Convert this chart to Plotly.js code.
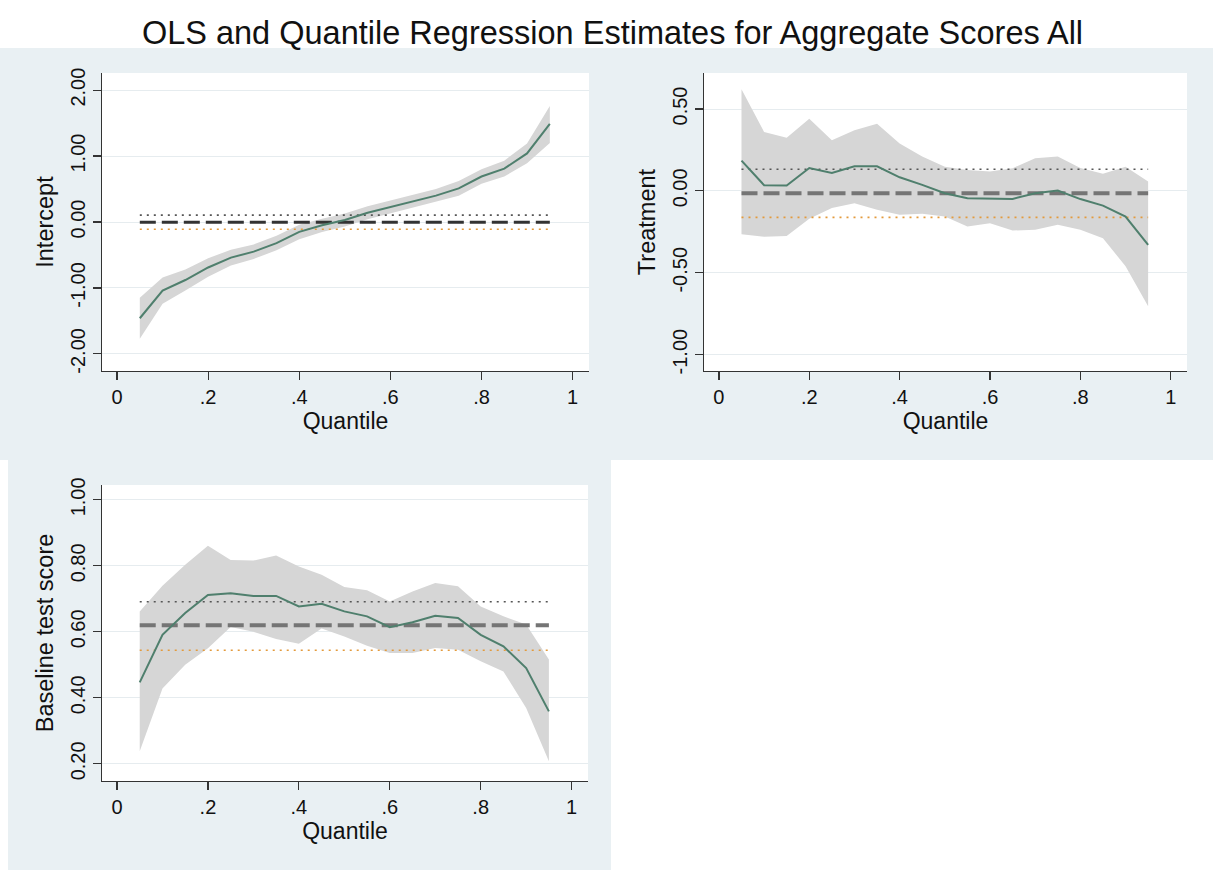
<!DOCTYPE html>
<html>
<head>
<meta charset="utf-8">
<script src="https://cdn.plot.ly/plotly-3.0.1.min.js"></script>
<style>html,body{margin:0;padding:0;background:#fff;}#chart{width:1225px;height:873px;}</style>
</head>
<body>
<div id="chart"></div>
<script>
// ---- data ----
const quantiles = [0.05,0.10,0.15,0.20,0.25,0.30,0.35,0.40,0.45,0.50,0.55,0.60,0.65,0.70,0.75,0.80,0.85,0.90,0.95];

const interceptCoef = [-1.46,-1.04,-0.88,-0.69,-0.54,-0.45,-0.32,-0.15,-0.05,0.03,0.14,0.23,0.32,0.40,0.51,0.69,0.81,1.04,1.49];
const interceptHi   = [-1.15,-0.84,-0.72,-0.55,-0.42,-0.34,-0.21,-0.04,0.05,0.13,0.24,0.33,0.42,0.50,0.62,0.80,0.93,1.19,1.76];
const interceptLo   = [-1.77,-1.24,-1.04,-0.83,-0.66,-0.56,-0.43,-0.26,-0.15,-0.07,0.04,0.13,0.22,0.30,0.40,0.58,0.69,0.89,1.20];
const interceptOLS = [-0.003, -0.11, 0.105]; // estimate, lower CI, upper CI

const treatCoef = [0.185,0.035,0.033,0.14,0.11,0.15,0.15,0.083,0.037,-0.014,-0.045,-0.045,-0.049,-0.014,0.002,-0.05,-0.09,-0.157,-0.33];
const treatHi   = [0.62,0.36,0.325,0.44,0.31,0.37,0.41,0.29,0.21,0.148,0.128,0.118,0.138,0.20,0.21,0.14,0.104,0.148,0.057];
const treatLo   = [-0.265,-0.28,-0.275,-0.17,-0.105,-0.075,-0.115,-0.146,-0.14,-0.156,-0.217,-0.197,-0.242,-0.238,-0.207,-0.238,-0.289,-0.46,-0.705];
const treatOLS = [-0.015, -0.162, 0.132];

const baseCoef = [0.447,0.591,0.657,0.712,0.717,0.709,0.709,0.677,0.685,0.662,0.647,0.614,0.629,0.649,0.642,0.591,0.556,0.490,0.359];
const baseHi   = [0.662,0.740,0.803,0.861,0.818,0.816,0.831,0.798,0.773,0.736,0.726,0.692,0.722,0.748,0.738,0.677,0.647,0.622,0.516];
const baseLo   = [0.238,0.428,0.500,0.550,0.615,0.600,0.578,0.564,0.610,0.586,0.558,0.536,0.536,0.551,0.546,0.511,0.480,0.369,0.208];
const baseOLS = [0.62, 0.544, 0.691];

const xTickVals = [0,0.2,0.4,0.6,0.8,1];
const xTickText = ['0','.2','.4','.6','.8','1'];
const yTickVals1 = [-2,-1,0,1,2];
const yTickText1 = ['-2.00','-1.00','0.00','1.00','2.00'];
const yTickVals2 = [-1,-0.5,0,0.5];
const yTickText2 = ['-1.00','-0.50','0.00','0.50'];
const yTickVals3 = [0.2,0.4,0.6,0.8,1.0];
const yTickText3 = ['0.20','0.40','0.60','0.80','1.00'];
const yTitles = ['Intercept','Treatment','Baseline test score'];
const xTitle = 'Quantile';
const chartTitle = 'OLS and Quantile Regression Estimates for Aggregate Scores All';

// ---- styles ----
const W = 1225, H = 873;
const FONT = 'Liberation Sans, Arial, Helvetica, sans-serif';
const BG = '#e9f0f3';
const bandColor = '#d6d6d6';
const qrColor = '#4f7f6d';
const upperDotColor = '#555555';
const lowerDotColor = '#e39a3c';

function panelTraces(xa, ya, coef, lo, hi, ols, olsColor, olsWidth) {
  const first = quantiles[0], last = quantiles[quantiles.length-1];
  return [
    {x: quantiles, y: lo, xaxis: xa, yaxis: ya, mode: 'lines', line: {width: 0, color: bandColor}, hoverinfo: 'skip', showlegend: false},
    {x: quantiles, y: hi, xaxis: xa, yaxis: ya, mode: 'lines', line: {width: 0, color: bandColor}, fill: 'tonexty', fillcolor: bandColor, hoverinfo: 'skip', showlegend: false},
    {x: [first, last], y: [ols[2], ols[2]], xaxis: xa, yaxis: ya, mode: 'lines', line: {color: upperDotColor, width: 1.6, dash: '2px,5px'}, showlegend: false},
    {x: [first, last], y: [ols[1], ols[1]], xaxis: xa, yaxis: ya, mode: 'lines', line: {color: lowerDotColor, width: 1.6, dash: '2px,5px'}, showlegend: false},
    {x: [first, last], y: [ols[0], ols[0]], xaxis: xa, yaxis: ya, mode: 'lines', line: {color: olsColor, width: olsWidth, dash: '16px,6px'}, showlegend: false},
    {x: quantiles, y: coef, xaxis: xa, yaxis: ya, mode: 'lines', line: {color: qrColor, width: 2}, showlegend: false}
  ];
}

const data = [].concat(
  panelTraces('x','y', interceptCoef, interceptLo, interceptHi, interceptOLS, '#333333', 3),
  panelTraces('x2','y2', treatCoef, treatLo, treatHi, treatOLS, '#757575', 4),
  panelTraces('x3','y3', baseCoef, baseLo, baseHi, baseOLS, '#757575', 4)
);

function px2x(p){return p/W;}
function px2y(p){return 1 - p/H;}

function xAxis(domainPx, anchor) {
  return {
    domain: [px2x(domainPx[0]), px2x(domainPx[1])], anchor: anchor,
    range: [-0.033, 1.036], tickvals: xTickVals, ticktext: xTickText,
    showline: true, linecolor: '#333', linewidth: 1.2, ticks: 'outside', ticklen: 8, tickcolor: '#333', tickwidth: 1.2,
    showgrid: false, zeroline: false, fixedrange: true,
    tickfont: {family: FONT, size: 20, color: '#111'},
    title: {text: xTitle, font: {family: FONT, size: 23, color: '#111'}, standoff: 3}
  };
}
function yAxis(domainPx, anchor, range, tickVals, tickText, title) {
  return {
    domain: [px2y(domainPx[1]), px2y(domainPx[0])], anchor: anchor,
    range: range, tickvals: tickVals, ticktext: tickText, tickangle: -90,
    showline: true, linecolor: '#333', linewidth: 1.2, ticks: 'outside', ticklen: 8, tickcolor: '#333', tickwidth: 1.2,
    showgrid: true, gridcolor: '#e6ecef', gridwidth: 1, zeroline: false, fixedrange: true,
    tickfont: {family: FONT, size: 20, color: '#111'},
    title: {text: title, font: {family: FONT, size: 23.5, color: '#111'}, standoff: 6}
  };
}

function rect(x0, y0, x1, y1, color) {
  return {type: 'rect', xref: 'paper', yref: 'paper', x0: px2x(x0), x1: px2x(x1), y0: px2y(y1), y1: px2y(y0),
    fillcolor: color, line: {width: 0}, layer: 'below'};
}

const layout = {
  width: W, height: H, margin: {l: 0, r: 0, t: 0, b: 0},
  paper_bgcolor: '#ffffff', plot_bgcolor: '#ffffff',
  font: {family: FONT, color: '#111'},
  title: {text: chartTitle, x: 0.5, xanchor: 'center', y: px2y(33), yanchor: 'middle', xref: 'paper', yref: 'paper',
          font: {family: FONT, size: 32.5, color: '#111'}},
  xaxis: xAxis([102, 589], 'y'),
  yaxis: yAxis([73, 371], 'x', [-2.26, 2.26], yTickVals1, yTickText1, yTitles[0]),
  xaxis2: xAxis([704, 1187], 'y2'),
  yaxis2: yAxis([73, 371], 'x2', [-1.10, 0.72], yTickVals2, yTickText2, yTitles[1]),
  xaxis3: xAxis([102, 588], 'y3'),
  yaxis3: yAxis([485, 781], 'x3', [0.148, 1.045], yTickVals3, yTickText3, yTitles[2]),
  shapes: [
    rect(0, 48, 608, 460, BG),
    rect(608, 48, 1213, 460, BG),
    rect(8, 460, 611, 870, BG),
    rect(102, 73, 589, 371, '#ffffff'),
    rect(704, 73, 1187, 371, '#ffffff'),
    rect(102, 485, 588, 781, '#ffffff')
  ]
};

Plotly.newPlot('chart', data, layout, {displayModeBar: false, staticPlot: true});
</script>
</body>
</html>
